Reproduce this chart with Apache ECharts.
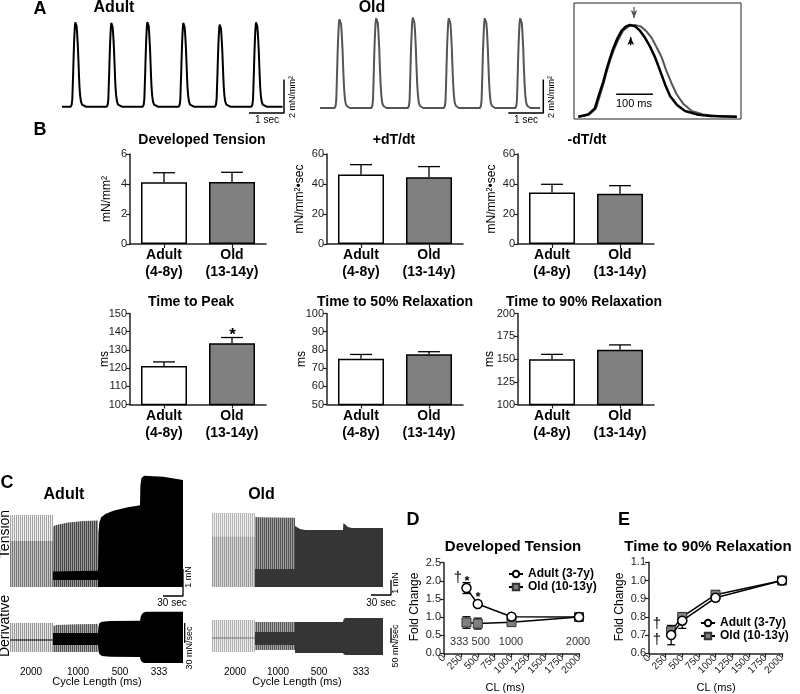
<!DOCTYPE html>
<html><head><meta charset="utf-8">
<script src="https://cdn.jsdelivr.net/npm/echarts@6/dist/echarts.min.js"></script>
<style>html,body{margin:0;padding:0;background:#fff}#c{width:800px;height:694px}</style>
</head><body><div id="c"></div>
<script>
// ================= DATA =================
// Panel A: single-twitch shapes (ms from onset, fraction of peak)
const twitchAdult = [[0,0],[27,0.025],[45,0.09],[57,0.245],[68,0.38],[76,0.5],[85,0.62],[94,0.73],[105,0.84],[118,0.938],[130,0.985],[141,1],[155,0.985],[168,0.938],[182,0.86],[196,0.76],[209,0.65],[223,0.5],[237,0.347],[250,0.227],[269,0.127],[291,0.062],[323,0.025],[359,0.007],[432,0]];
const twitchOld = [[0,0],[30,0.025],[48,0.09],[60,0.245],[70,0.38],[78,0.5],[87,0.62],[97,0.73],[109,0.84],[122,0.938],[139,0.99],[154,1],[170,0.985],[184,0.938],[200,0.86],[213,0.76],[227,0.65],[240,0.5],[254,0.365],[268,0.245],[286,0.14],[309,0.062],[340,0.025],[386,0.005],[432,0]];
// Beat onsets (s) and amplitudes (mN/mm2) of the example traces
const adultOnsets = [0.25, 1.279, 2.308, 3.336, 4.373, 5.413];
const adultAmps = [5.13, 5.09, 5.15, 5.09, 4.99, 5.13];
const adultTraceEnd = 6.3;
const oldOnsets = [0.417, 1.466, 2.512, 3.54, 4.569, 5.58];
const oldAmps = [5.37, 5.43, 5.47, 5.43, 5.43, 5.43];
const oldTraceEnd = 6.29;

// Panel B: mean and SEM (Adult, Old)
const barCats = ['Adult\n(4-8y)', 'Old\n(13-14y)'];
const devTensionMean = [4.11, 4.13], devTensionSem = [0.64, 0.65];
const plusDtMean = [46.3, 44.5], plusDtSem = [6.6, 7.1];
const minusDtMean = [34.4, 33.5], minusDtSem = [5.4, 5.4];
const ttpMean = [121.2, 133.7], ttpSem = [2.2, 3.1];
const t50Mean = [75.1, 77.6], t50Sem = [2.4, 1.4];
const t90Mean = [149.6, 160.3], t90Sem = [5.5, 5.2];

// Panel C: envelopes of the continuous recordings (time s, tension mN or dT/dt mN/s)
const cycleLabels = ['2000', '1000', '500', '333'];
const cAdultTen2000 = [[0,2.67],[64.5,2.67]];
const cAdultTen2000Dense = [[0,1.70],[64.5,1.70]];
const cAdultTen1000 = [[64.5,2.22],[67,2.28],[85,2.38],[110,2.44],[132,2.46]];
const cAdultTen1000Dia = [[64.5,0.57],[132,0.6]];
const cAdultTen1000DiaLow = [[64.5,0.26],[132,0.26]];
const cAdultTen500 = [[132,0.6],[132.6,2.0],[134,2.4],[137,2.58],[143,2.7],[155,2.82],[175,2.94],[195,3.03]];
const cAdultTen333 = [[195,3.03],[195.6,3.75],[197,4.02],[201,4.12],[230,4.08],[259.5,3.96]];

const cAdultDer2000Top = [[0,25.5],[64.5,25.5]];
const cAdultDer2000Bot = [[0,-18],[64.5,-18]];
const cAdultDer2000Mid = [[0,0],[64.5,0]];
const cAdultDer1000Top = [[64.5,21],[70,22.5],[100,23.5],[132,24]];
const cAdultDer1000Bot = [[64.5,-18],[132,-18]];
const cAdultDer1000BandTop = [[64.5,10.5],[132,10.5]];
const cAdultDer1000BandBot = [[64.5,-7.5],[132,-7.5]];
const cAdultDer500Top = [[132,10],[132.6,20],[134,25],[138,27.5],[150,28.5],[195,29]];
const cAdultDer500Bot = [[132,-8],[132.6,-16],[134,-21],[138,-24],[150,-25],[195,-25.5]];
const cAdultDer333Top = [[195,29],[196,35],[198,39],[201,41.5],[205,42.5],[259.5,42.5]];
const cAdultDer333Bot = [[195,-25.5],[196,-30],[198,-33],[201,-34.5],[259.5,-34.5]];

const cOldTen2000 = [[0,4.93],[64.5,4.93]];
const cOldTen2000Dense = [[0,3.35],[64.5,3.35]];
const cOldTen1000 = [[64.5,4.67],[70,4.65],[124.5,4.62]];
const cOldTen1000Dia = [[64.5,1.2],[124.5,1.2]];
const cOldTen500 = [[124.5,4.07],[127,4.0],[132,3.87],[140,3.8],[196.5,3.8]];
const cOldTen333 = [[196.5,3.8],[197,4.25],[199,4.2],[204,4.0],[210,3.93],[256.5,3.93]];

const cOldDer2000Top = [[0,60],[64.5,60]];
const cOldDer2000Bot = [[0,-46.7],[64.5,-46.7]];
const cOldDer2000Mid = [[0,0],[64.5,0]];
const cOldDer1000Top = [[64.5,53.3],[124.5,53.3]];
const cOldDer1000Bot = [[64.5,-40],[124.5,-40]];
const cOldDer1000BandTop = [[64.5,20],[124.5,20]];
const cOldDer1000BandBot = [[64.5,-23.3],[124.5,-23.3]];
const cOldDer500Top = [[124.5,53.3],[196.5,53.3]];
const cOldDer500Bot = [[124.5,-50],[196.5,-50]];
const cOldDer333Top = [[196.5,53.3],[197.5,63],[200,66.7],[256.5,66.7]];
const cOldDer333Bot = [[196.5,-50],[197.5,-54],[200,-56.7],[256.5,-56.7]];

// Panels D and E: cycle length (ms), fold change mean and SEM
const clValues = [333, 500, 1000, 2000];
const dAdultMean = [1.80, 1.36, 1.01, 1.00], dAdultSem = [0.15, 0.07, 0.03, 0.02];
const dOldMean = [0.85, 0.82, 0.86, 1.00], dOldSem = [0.16, 0.15, 0.03, 0.02];
const eAdultMean = [0.700, 0.779, 0.905, 1.000], eAdultSem = [0.053, 0.042, 0.018, 0.005];
const eOldMean = [0.722, 0.800, 0.922, 1.000], eOldSem = [0.030, 0.023, 0.022, 0.005];

// ================= BUILD =================
const FONT = '"Liberation Sans", Arial, Helvetica, sans-serif';
const NARROW = '"Liberation Sans Narrow", "Arial Narrow", "Liberation Sans", sans-serif';
const grids = [], xAxes = [], yAxes = [], series = [], graphics = [];

function hiddenGrid(left, top, width, height, x0, px, y0, py, extra) {
  const gi = grids.length;
  grids.push(Object.assign({left, top, width, height, outerBoundsMode: 'none', containLabel: false, show: false}, extra || {}));
  xAxes.push({type: 'value', gridIndex: gi, show: false, min: (left - x0) / px, max: (left + width - x0) / px, splitLine: {show: false}});
  yAxes.push({type: 'value', gridIndex: gi, show: false, min: (y0 - (top + height)) / py, max: (y0 - top) / py, splitLine: {show: false}});
  return gi;
}
function line(gi, data, color, width, z, extra) {
  return Object.assign({type: 'line', xAxisIndex: gi, yAxisIndex: gi, data, symbol: 'none', showSymbol: false,
    lineStyle: {color, width}, z: z || 3, silent: true, animation: false}, extra || {});
}
function poly(gi, pts, fill, z) {
  return {type: 'custom', xAxisIndex: gi, yAxisIndex: gi, data: pts, encode: {x: 0, y: 1}, silent: true, z: z || 2, animation: false,
    renderItem(params, api) {
      if (params.dataIndex !== 0) return null;
      return {type: 'polygon', shape: {points: pts.map(p => api.coord(p))}, style: {fill: fill, stroke: null}};
    }};
}
const band = (top, bot) => top.concat(bot.slice().reverse());
const toBase = (top) => top.concat([[top[top.length - 1][0], 0], [top[0][0], 0]]);
function stripe(c1, c2) {
  const cv = document.createElement('canvas'); cv.width = 2; cv.height = 4;
  const ctx = cv.getContext('2d'); ctx.fillStyle = c1; ctx.fillRect(0, 0, 1, 4); ctx.fillStyle = c2; ctx.fillRect(1, 0, 1, 4);
  return {image: cv, repeat: 'repeat'};
}
function buildTrace(onsets, amps, shape, tEnd) {
  const pts = [[0, 0]];
  onsets.forEach((on, i) => shape.forEach(([ms, f]) => pts.push([on + ms / 1000, amps[i] * f])));
  pts.push([tEnd, 0]);
  return pts;
}
function txt(x, y, text, size, o) {
  o = o || {};
  return {type: 'text', x, y, rotation: o.rot ? Math.PI / 2 : 0, z: 100, silent: true,
    style: {text, font: (o.bold ? 'bold ' : '') + size + 'px ' + (o.family || FONT), fill: o.color || '#000',
      textAlign: o.align || 'center', textVerticalAlign: 'middle', align: o.align || 'center', verticalAlign: 'middle'}};
}
function errSeries(gi, data, halfCap, upOnly, z) {
  return {type: 'custom', xAxisIndex: gi, yAxisIndex: gi, data, encode: {x: 0, y: 1}, silent: true, z: z || 4, animation: false,
    renderItem(params, api) {
      const x = api.value(0), m = api.value(1), e = api.value(2);
      const pt = api.coord([x, m + e]);
      const pb = api.coord([x, upOnly ? m : m - e]);
      const st = {stroke: '#000', lineWidth: 1.3};
      const ch = [{type: 'line', shape: {x1: pt[0], y1: pt[1], x2: pb[0], y2: pb[1]}, style: st},
                  {type: 'line', shape: {x1: pt[0] - halfCap, y1: pt[1], x2: pt[0] + halfCap, y2: pt[1]}, style: st}];
      if (!upOnly) ch.push({type: 'line', shape: {x1: pb[0] - halfCap, y1: pb[1], x2: pb[0] + halfCap, y2: pb[1]}, style: st});
      return {type: 'group', children: ch};
    }};
}

// ---------- Panel A ----------
let g = hiddenGrid(62, 0, 232, 120, 62, 35, 106.7, 16.7);
series.push(line(g, buildTrace(adultOnsets, adultAmps, twitchAdult, adultTraceEnd), '#000', 2));
series.push(line(g, [[5.343, -0.377], [6.343, -0.377], [6.343, 1.623]], '#000', 1.5));
g = hiddenGrid(320, 0, 232, 120, 320, 35, 108, 16.7);
series.push(line(g, buildTrace(oldOnsets, oldAmps, twitchOld, oldTraceEnd), '#555', 2));
series.push(line(g, [[5.38, -0.3], [6.38, -0.3], [6.38, 1.7]], '#000', 1.5));
g = hiddenGrid(574, 3, 167, 116, 578.3, 0.367, 116.7, 91.7, {show: true, borderColor: '#222', borderWidth: 1, backgroundColor: 'transparent'});
series.push(line(g, twitchOld, '#555', 2, 3));
series.push(line(g, twitchAdult, '#000', 2.5, 4));
series.push(line(g, [[103.3, 0.244], [203.3, 0.244]], '#000', 1.5));
series.push(line(g, [{value: [151.8, 1.196], symbol: 'none'}, {value: [151.8, 1.076], symbol: 'arrow', symbolSize: [5, 8], symbolRotate: 180}], '#555', 1.2, 5, {showSymbol: true, itemStyle: {color: '#555'}}));
series.push(line(g, [{value: [142.8, 0.78], symbol: 'none'}, {value: [142.8, 0.869], symbol: 'arrow', symbolSize: [5, 8]}], '#000', 1.2, 5, {showSymbol: true, itemStyle: {color: '#000'}}));

// ---------- Panel B ----------
const barDefs = [
  {mean: devTensionMean, sem: devTensionSem, left: 130, top: 154, h: 90, min: 0, max: 6, iv: 2},
  {mean: plusDtMean, sem: plusDtSem, left: 327, top: 154, h: 90, min: 0, max: 60, iv: 20},
  {mean: minusDtMean, sem: minusDtSem, left: 518, top: 154, h: 90, min: 0, max: 60, iv: 20},
  {mean: ttpMean, sem: ttpSem, left: 130, top: 313.5, h: 91, min: 100, max: 150, iv: 10},
  {mean: t50Mean, sem: t50Sem, left: 327, top: 313.5, h: 91, min: 50, max: 100, iv: 10},
  {mean: t90Mean, sem: t90Sem, left: 518, top: 313.5, h: 91, min: 100, max: 200, iv: 25}
];
const barFill = ['#ffffff', '#808080'];
const axLine = {show: true, onZero: false, lineStyle: {color: '#222', width: 1.5}};
const axTick = {show: true, inside: false, length: 4, lineStyle: {color: '#222', width: 1.2}};
barDefs.forEach(d => {
  const gi = grids.length;
  grids.push({left: d.left, top: d.top, width: 136, height: d.h, outerBoundsMode: 'none', containLabel: false});
  xAxes.push({type: 'category', gridIndex: gi, data: barCats, boundaryGap: true, axisLine: axLine,
    axisTick: Object.assign({alignWithLabel: true}, axTick),
    axisLabel: {interval: 0, fontFamily: FONT, fontWeight: 'bold', fontSize: 14, lineHeight: 17, color: '#000', margin: 3}, splitLine: {show: false}});
  yAxes.push({type: 'value', gridIndex: gi, min: d.min, max: d.max, interval: d.iv, axisLine: axLine, axisTick: axTick,
    axisLabel: {fontFamily: FONT, fontSize: 11, color: '#222', margin: 3, formatter: v => String(v)}, splitLine: {show: false}});
  series.push({type: 'bar', xAxisIndex: gi, yAxisIndex: gi, barWidth: 46, clip: true, silent: true, animation: false, z: 2,
    data: d.mean.map((v, i) => ({value: v, itemStyle: {color: barFill[i]}})),
    itemStyle: {borderColor: '#000', borderWidth: 1.5}});
  series.push(errSeries(gi, d.mean.map((v, i) => [i, v, d.sem[i]]), 11, true, 3));
});

// ---------- Panel C ----------
const fA2000 = stripe('#a4a4a4', '#f2f2f2'), fA2000d = stripe('#777', '#c4c4c4'), fA1000 = stripe('#444', '#999');
const fAD2000 = stripe('#999', '#e6e6e6'), fAD1000 = stripe('#555', '#aaa');
const fO2000 = stripe('#b4b4b4', '#f0f0f0'), fO2000d = stripe('#999', '#d6d6d6'), fO1000 = stripe('#555', '#9c9c9c');
const fOD2000 = stripe('#b0b0b0', '#ececec'), fOD1000 = stripe('#5a5a5a', '#a5a5a5');
const OLDDARK = '#353535';

g = hiddenGrid(10, 470, 180, 140, 10, 1 / 1.5, 587, 27);
series.push(poly(g, toBase(cAdultTen2000), fA2000));
series.push(poly(g, toBase(cAdultTen2000Dense), fA2000d));
series.push(poly(g, toBase(cAdultTen1000), fA1000));
series.push(poly(g, band(cAdultTen1000Dia, cAdultTen1000DiaLow), '#000'));
series.push(poly(g, toBase(cAdultTen500), '#000'));
series.push(poly(g, toBase(cAdultTen333), '#000'));
series.push(line(g, [[229.5, -0.333], [259.5, -0.333], [259.5, 0.667]], '#000', 1.3));

g = hiddenGrid(10, 605, 180, 65, 10, 1 / 1.5, 640, 1 / 1.5);
series.push(poly(g, band(cAdultDer2000Top, cAdultDer2000Bot), fAD2000));
series.push(line(g, cAdultDer2000Mid, '#000', 1.2));
series.push(poly(g, band(cAdultDer1000Top, cAdultDer1000Bot), fAD1000));
series.push(poly(g, band(cAdultDer1000BandTop, cAdultDer1000BandBot), '#000'));
series.push(poly(g, band(cAdultDer500Top, cAdultDer500Bot), '#000'));
series.push(poly(g, band(cAdultDer333Top, cAdultDer333Bot), '#000'));
series.push(line(g, [[262, -4.5], [262, 25.5]], '#000', 1.3));

g = hiddenGrid(212, 470, 182, 140, 212, 1 / 1.5, 587, 15);
series.push(poly(g, toBase(cOldTen2000), fO2000));
series.push(poly(g, toBase(cOldTen2000Dense), fO2000d));
series.push(poly(g, toBase(cOldTen1000), fO1000));
series.push(poly(g, toBase(cOldTen1000Dia), OLDDARK));
series.push(poly(g, toBase(cOldTen500), OLDDARK));
series.push(poly(g, toBase(cOldTen333), OLDDARK));
series.push(line(g, [[238.5, -0.533], [268.5, -0.533], [268.5, 0.467]], '#000', 1.3));

g = hiddenGrid(212, 605, 182, 65, 212, 1 / 1.5, 638, 0.3);
series.push(poly(g, band(cOldDer2000Top, cOldDer2000Bot), fOD2000));
series.push(line(g, cOldDer2000Mid, '#777', 1.2));
series.push(poly(g, band(cOldDer1000Top, cOldDer1000Bot), fOD1000));
series.push(poly(g, band(cOldDer1000BandTop, cOldDer1000BandBot), OLDDARK));
series.push(poly(g, band(cOldDer500Top, cOldDer500Bot), OLDDARK));
series.push(poly(g, band(cOldDer333Top, cOldDer333Bot), OLDDARK));
series.push(line(g, [[268.5, -16.7], [268.5, 33.3]], '#000', 1.3));

// ---------- Panels D, E ----------
function foldPanel(left, top, width, height, ymin, ymax, yiv, adM, adS, olM, olS) {
  const gi = grids.length;
  grids.push({left, top, width, height, outerBoundsMode: 'none', containLabel: false});
  xAxes.push({type: 'value', gridIndex: gi, min: 0, max: 2000, interval: 250, axisLine: axLine, axisTick: axTick,
    axisLabel: {rotate: 45, fontFamily: FONT, fontSize: 10, color: '#222', margin: 3, formatter: v => String(v)}, splitLine: {show: false}});
  yAxes.push({type: 'value', gridIndex: gi, min: ymin, max: ymax, interval: yiv, axisLine: axLine, axisTick: axTick,
    axisLabel: {fontFamily: FONT, fontSize: 11, color: '#222', margin: 3, formatter: v => v.toFixed(1)}, splitLine: {show: false}});
  series.push(errSeries(gi, clValues.map((c, i) => [c, olM[i], olS[i]]), 4, false, 3));
  series.push(errSeries(gi, clValues.map((c, i) => [c, adM[i], adS[i]]), 4, false, 3));
  series.push({type: 'line', name: 'Old (10-13y)', xAxisIndex: gi, yAxisIndex: gi, data: clValues.map((c, i) => [c, olM[i]]),
    symbol: 'rect', symbolSize: 9, showSymbol: true, z: 5, animation: false,
    itemStyle: {color: '#7f7f7f', borderColor: '#333', borderWidth: 1}, lineStyle: {color: '#000', width: 1.5}});
  series.push({type: 'line', name: 'Adult (3-7y)', xAxisIndex: gi, yAxisIndex: gi, data: clValues.map((c, i) => [c, adM[i]]),
    symbol: 'circle', symbolSize: 9, showSymbol: true, z: 6, animation: false,
    itemStyle: {color: '#fff', borderColor: '#000', borderWidth: 1.5}, lineStyle: {color: '#000', width: 1.5}});
}
foldPanel(444, 562.7, 135, 90.6, 0, 2.5, 0.5, dAdultMean, dAdultSem, dOldMean, dOldSem);
foldPanel(649, 562.3, 133, 91, 0.6, 1.1, 0.1, eAdultMean, eAdultSem, eOldMean, eOldSem);

// ---------- Texts ----------
const B = {bold: true};
graphics.push(
  txt(40, 9, 'A', 18, B), txt(40, 130, 'B', 18, B), txt(7, 483, 'C', 18, B), txt(413, 520, 'D', 18, B), txt(624, 520, 'E', 18, B),
  txt(114, 8, 'Adult', 16, B), txt(372, 8, 'Old', 16, B),
  txt(267, 120, '1 sec', 10), txt(526, 120, '1 sec', 10),
  txt(293, 97, '2 mN/mm²', 9, {rot: 1}), txt(552, 97, '2 mN/mm²', 9, {rot: 1}),
  txt(634, 104, '100 ms', 11),
  txt(202, 140, 'Developed Tension', 14, B), txt(394, 140, '+dT/dt', 14, B), txt(587, 140, '-dT/dt', 14, B),
  txt(191, 302, 'Time to Peak', 14, B), txt(395, 302, 'Time to 50% Relaxation', 14, B), txt(584, 302, 'Time to 90% Relaxation', 14, B),
  txt(107, 199, 'mN/mm²', 12, {rot: 1}), txt(300, 199, 'mN/mm²•sec', 12, {rot: 1}), txt(492, 199, 'mN/mm²•sec', 12, {rot: 1}),
  txt(105, 359, 'ms', 12, {rot: 1}), txt(302, 359, 'ms', 12, {rot: 1}), txt(490, 359, 'ms', 12, {rot: 1}),
  txt(232.5, 335, '*', 17, B),
  txt(64, 495, 'Adult', 16, B), txt(261.5, 495, 'Old', 16, B),
  txt(5, 534, 'Tension', 14, {rot: 1}), txt(5, 626, 'Derivative', 14, {rot: 1}),
  txt(172, 603, '30 sec', 10, {family: NARROW}), txt(381, 603, '30 sec', 10, {family: NARROW}),
  txt(189, 577, '1 mN', 9, {rot: 1, family: NARROW}), txt(396, 583, '1 mN', 9, {rot: 1, family: NARROW}),
  txt(190, 648, '30 mN/sec', 9, {rot: 1, family: NARROW}), txt(396, 646, '50 mN/sec', 9, {rot: 1, family: NARROW}),
  txt(97, 682, 'Cycle Length (ms)', 11, {family: NARROW}), txt(297, 682, 'Cycle Length (ms)', 11, {family: NARROW}),
  txt(513, 547, 'Developed Tension', 15, B), txt(415, 607, 'Fold Change', 12, {rot: 1}), txt(505, 688, 'CL (ms)', 11),
  txt(458, 578, '†', 15), txt(467, 581, '*', 13, B), txt(478, 597, '*', 13, B),
  txt(470, 642, '333 500', 11, {family: NARROW, color: '#333'}), txt(511, 642, '1000', 11, {family: NARROW, color: '#333'}),
  txt(578, 642, '2000', 11, {family: NARROW, color: '#333'}),
  txt(708, 547, 'Time to 90% Relaxation', 15, B), txt(620, 607, 'Fold Change', 12, {rot: 1}), txt(716, 688, 'CL (ms)', 11),
  txt(657, 624, '†', 15), txt(657, 640, '†', 15)
);
const cAdultX = [31, 78, 120, 159], cOldX = [235, 278, 319, 361];
cycleLabels.forEach((c, i) => {
  graphics.push(txt(cAdultX[i], 672, c, 10, {family: NARROW}));
  graphics.push(txt(cOldX[i], 672, c, 10, {family: NARROW}));
});

const legendBase = {orient: 'vertical', itemWidth: 14, itemHeight: 8, itemGap: 1, padding: 0, selectedMode: false,
  data: ['Adult (3-7y)', 'Old (10-13y)'],
  textStyle: {fontFamily: FONT, fontWeight: 'bold', fontSize: 12, color: '#000', lineHeight: 12}};

const chart = echarts.init(document.getElementById('c'), null, {renderer: 'canvas', width: 800, height: 694});
chart.setOption({
  animation: false,
  backgroundColor: '#fff',
  textStyle: {fontFamily: FONT},
  grid: grids, xAxis: xAxes, yAxis: yAxes, series: series,
  legend: [Object.assign({left: 508, top: 568}, legendBase), Object.assign({left: 700, top: 617}, legendBase)],
  graphic: {elements: graphics}
});
</script></body></html>
